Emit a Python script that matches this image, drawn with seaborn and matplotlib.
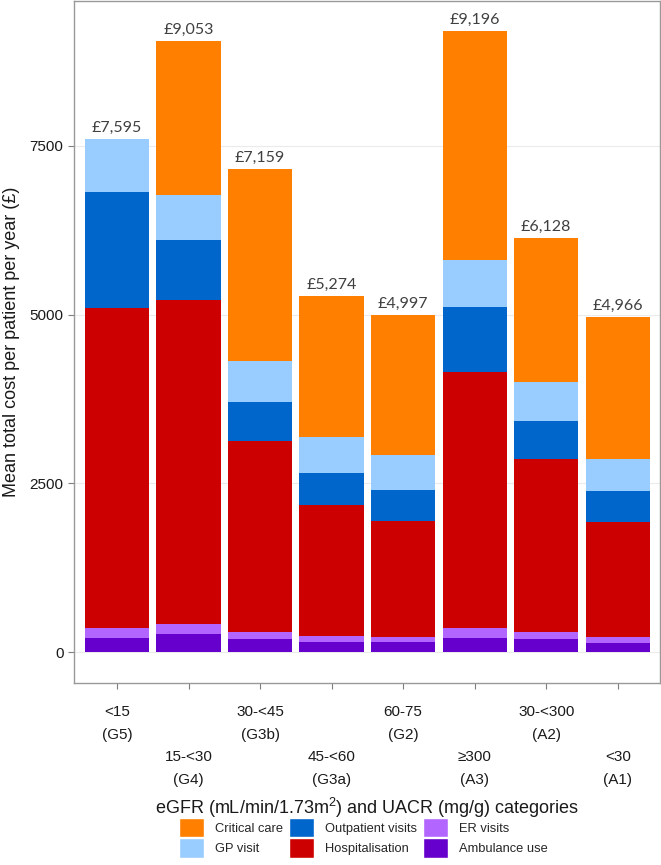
import numpy as np
import pandas as pd
import matplotlib
matplotlib.use("Agg")
import matplotlib.pyplot as plt
import seaborn as sns
from matplotlib.patches import Patch

# data (stacked from bottom to top)
categories = ["<15\n(G5)", "15-<30\n(G4)", "30-<45\n(G3b)", "45-<60\n(G3a)",
              "60-75\n(G2)", "\u2265300\n(A3)", "30-<300\n(A2)", "<30\n(A1)"]
ambulance = [207, 272, 198, 154, 143, 213, 198, 139]
er_visits = [143, 142, 98, 83, 79, 137, 98, 78]
hospitalisation = [4748, 4808, 2835, 1944, 1722, 3801, 2568, 1712]
outpatient = [1716, 877, 579, 471, 460, 961, 554, 450]
gp_visit = [781, 676, 598, 528, 509, 691, 576, 485]
critical_care = [0, 2278, 2851, 2094, 2084, 3393, 2134, 2102]
totals = [7595, 9053, 7159, 5274, 4997, 9196, 6128, 4966]

layers = [
    ("Ambulance use", ambulance, "#6600CC"),
    ("ER visits", er_visits, "#B266FF"),
    ("Hospitalisation", hospitalisation, "#CC0000"),
    ("Outpatient visits", outpatient, "#0066CC"),
    ("GP visit", gp_visit, "#99CCFF"),
    ("Critical care", critical_care, "#FF8000"),
]

sns.set_theme(style="white")
plt.rcParams["font.family"] = ["Liberation Sans", "DejaVu Sans"]
plt.rcParams["mathtext.fontset"] = "custom"
plt.rcParams["mathtext.rm"] = "Liberation Sans"

df = pd.DataFrame({"category": categories})
cum = np.zeros(len(categories))
for name, vals, col in layers:
    cum = cum + np.array(vals)
    df[name] = cum

fig, ax = plt.subplots(figsize=(6.61, 8.65), dpi=100)
fig.subplots_adjust(left=0.112, right=0.9985, top=0.999, bottom=0.2104)

# overlay cumulative bars, tallest first
for name, vals, col in reversed(layers):
    sns.barplot(data=df, x="category", y=name, color=col, saturation=1,
                width=0.9, ax=ax, order=categories, zorder=2, linewidth=0)

for i, t in enumerate(totals):
    ax.annotate(f"\u00a3{t:,}", (i, t), xytext=(0, 3), textcoords="offset points",
                ha="center", va="bottom", fontsize=11.5, color="#404040",
                family=["Lato", "DejaVu Sans"])

ax.set_xlim(-0.6, 7.59)
ax.set_ylim(-459, 9649)
ax.set_yticks([0, 2500, 5000, 7500])
ax.yaxis.grid(True, color="#EBEBEB", linewidth=0.8, zorder=0)
ax.set_axisbelow(True)

ticklabels = [c if i % 2 == 0 else "\n\n" + c for i, c in enumerate(categories)]
ax.set_xticks(range(len(categories)))
ax.set_xticklabels(ticklabels, fontsize=11, color="#1a1a1a", linespacing=1.77, va="top")
ax.tick_params(axis="x", length=4, width=0.8, color="#7f7f7f", pad=12, bottom=True)
ax.tick_params(axis="y", length=4, width=0.8, color="#7f7f7f", labelsize=11,
               labelcolor="#1a1a1a", left=True)

for s in ax.spines.values():
    s.set_color("#999999")
    s.set_linewidth(1.0)

ax.set_xlabel("eGFR (mL/min/1.73m$^2$) and UACR (mg/g) categories", fontsize=13, color="#1a1a1a")
ax.xaxis.set_label_coords(0.5, -0.165)
ax.set_ylabel("Mean total cost per patient per year (\u00a3)", fontsize=13, color="#1a1a1a")
ax.yaxis.set_label_coords(-0.093, 0.5)

handles = [Patch(facecolor=col, label=name) for name, vals, col in reversed(layers)]
fig.legend(handles=handles, loc="center", bbox_to_anchor=(0.55, 0.0315), ncol=3,
           frameon=False, fontsize=9.3, handlelength=1.9, handleheight=1.9,
           labelspacing=0.1, columnspacing=0.45, handletextpad=0.9)

plt.savefig("out.png", dpi=100)
plt.close()
